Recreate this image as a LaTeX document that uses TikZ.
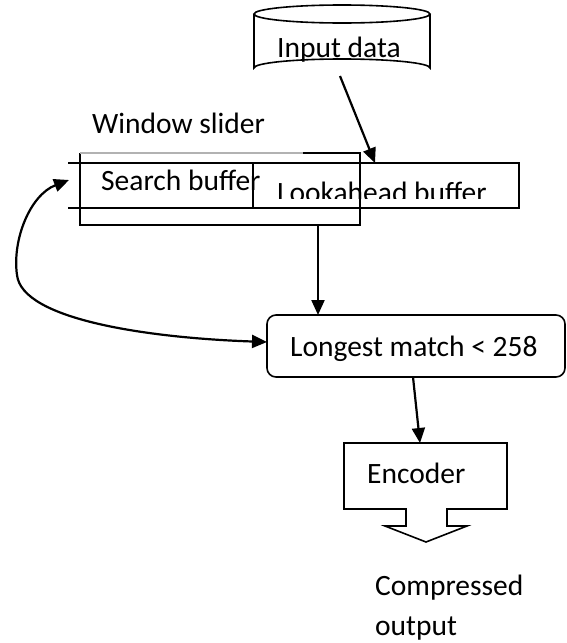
\documentclass[tikz,border=0pt]{standalone}
\usepackage{fontspec}
\setmainfont{Carlito}
\usetikzlibrary{arrows.meta}
\begin{document}
\begin{tikzpicture}[x=1pt,y=-1pt,
  boxline/.style={line width=1.6pt},
  tipstyle/.style={},
  conn/.style={line width=2.2pt,-{Triangle[length=15pt,width=13pt]}},
  lbl/.style={anchor=base west,inner sep=0pt,font=\fontsize{29.5}{35}\selectfont}]
\useasboundingbox (0,0) rectangle (567,643);
% cylinder
\draw[boxline] (254,14) -- (254,68) arc[start angle=180,end angle=360,x radius=88,y radius=9] -- (430,14);
\draw[boxline] (342,14) ellipse[x radius=88,y radius=9];
\node[lbl] (inp) at (277,57) {Input data};
\coordinate (cylbot) at (340,76);
% window slider
\node[lbl] (win) at (92,133) {Window slider};
\draw[boxline] (303,153) -- (360,153) -- (360,225) -- (80,225) -- (80,153);
\draw[line width=1.1pt,gray!60] (80,153) -- (303,153);
\draw[boxline] (68,163) -- (253,163);
\draw[boxline] (68,208) -- (253,208);
\node[draw,boxline,minimum width=266pt,minimum height=45pt,inner sep=0pt] (look) at (386,185.5) {};
\node[lbl] (srch) at (101,190) {Search buffer};
\begin{scope}
  \clip (253,160) rectangle (519,198);
  \node[lbl] (lookt) at (277,202) {Lookahead buffer};
\end{scope}
\coordinate (lookin) at (375,163);
\coordinate (winout) at (318,225);
\coordinate (srchin) at (69,180);
% longest match
\node[draw,boxline,rounded corners=9pt,minimum width=298pt,minimum height=62pt,inner sep=0pt] (lm) at (416,346) {};
\node[lbl] (lmt) at (290,356) {Longest match < 258};
\coordinate (lmtop) at (318,315);
\coordinate (lmleft) at (267,342);
\coordinate (lmbot) at (413,377);
% encoder
\draw[boxline] (344,443) -- (507,443) -- (507,509) -- (447,509) -- (447,526) -- (467,526)
  -- (426,542) -- (385,526) -- (406,526) -- (406,509) -- (344,509) -- cycle;
\node[lbl] (enc) at (367,483) {Encoder};
\coordinate (enctop) at (420,443);
\node[lbl] (co1) at (375,595) {Compressed};
\node[lbl] (co2) at (375,635) {output};
% connectors
\draw[conn] (cylbot) -- (lookin);
\draw[conn] (winout) -- (lmtop);
\draw[conn] (lmbot) -- (enctop);
\draw[line width=2.2pt,{Triangle[length=15pt,width=13pt]}-{Triangle[length=15pt,width=13pt]}]
  (srchin) .. controls (30,195) and (12,240) .. (17,275)
  .. controls (22,320) and (150,338) .. (lmleft);
\end{tikzpicture}
\end{document}
